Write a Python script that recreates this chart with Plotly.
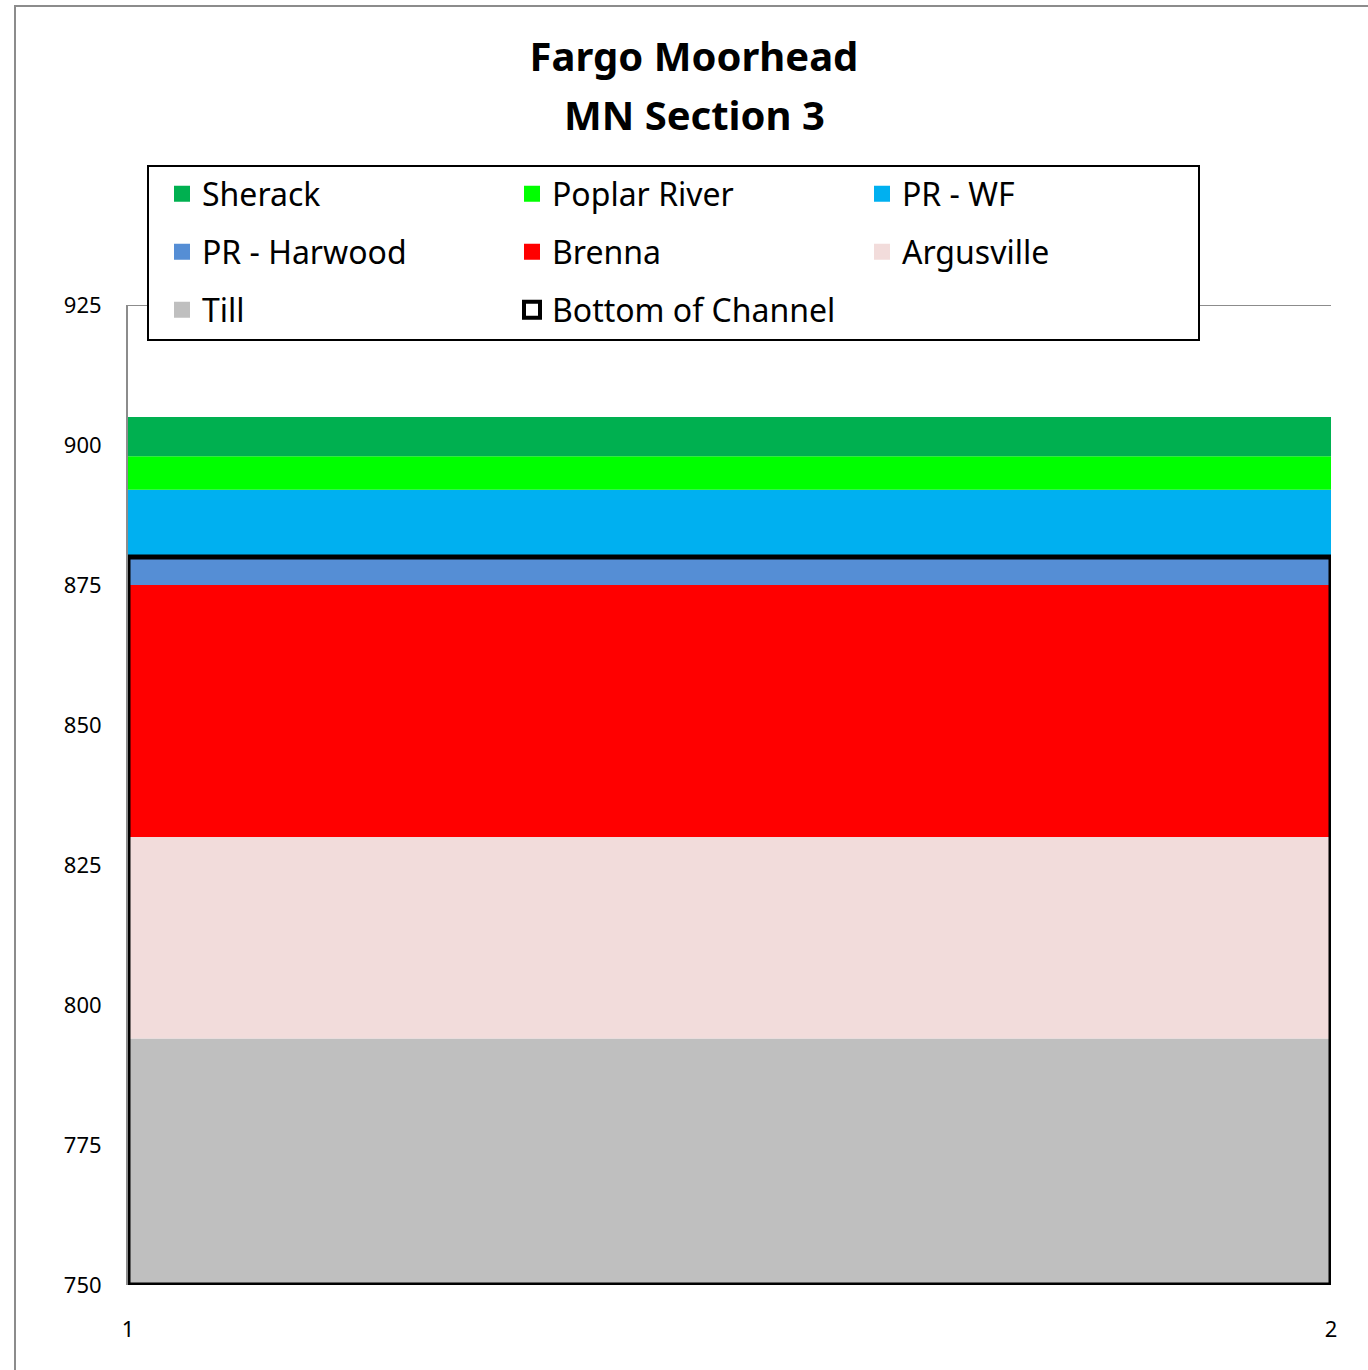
import plotly.graph_objects as go

# elevations (ft), layers from bottom to top
x_pos = [1, 2]
layer_names = ["Till", "Argusville", "Brenna", "PR - Harwood", "PR - WF", "Poplar River", "Sherack"]
layer_tops = [794, 830, 875, 880, 892, 898, 905]
layer_colors = ["#BFBFBF", "#F2DCDB", "#FF0000", "#558ED5", "#00B0F0", "#00FF00", "#00B050"]
channel_bottom = 880
y_min = 750
y_max = 925
y_ticks = [750, 775, 800, 825, 850, 875, 900, 925]

legend_rows = [
    ["Sherack", "Poplar River", "PR - WF"],
    ["PR - Harwood", "Brenna", "Argusville"],
    ["Till", "Bottom of Channel"],
]

# body margin is removed by the post script, so figure coords = screen coords
W, H = 1368, 1370
L, R, T, B = 128, 1331, 305, 1285

def px_x(p):
    return (p - L) / (R - L)

def px_y(p):
    return (B - p) / (B - T)

fig = go.Figure()

# stacked soil layers
for i, name in enumerate(layer_names):
    fig.add_trace(go.Scatter(
        x=x_pos, y=[layer_tops[i]] * len(x_pos),
        mode="lines", line=dict(width=0),
        fill="tozeroy" if i == 0 else "tonexty",
        fillcolor=layer_colors[i], showlegend=False, hoverinfo="skip"))

# bottom of channel outline
fig.add_trace(go.Scatter(
    x=[x_pos[0], x_pos[0], x_pos[-1], x_pos[-1], x_pos[0]],
    y=[y_min, channel_bottom, channel_bottom, y_min, y_min],
    mode="lines", line=dict(color="black", width=5),
    fill="toself", fillcolor="rgba(0,0,0,0)", showlegend=False, hoverinfo="skip"))

# legend entries, one legend per row
color_of = dict(zip(layer_names, layer_colors))
row_y = [194, 252, 310]
legend_keys = ["legend", "legend2", "legend3"]
for r, row in enumerate(legend_rows):
    for name in row:
        if name == "Bottom of Channel":
            mk = dict(symbol="square-open", size=18, color="black", line=dict(width=4, color="black"))
        else:
            mk = dict(symbol="square", size=20, color=color_of[name], line=dict(width=0))
        fig.add_trace(go.Scatter(x=[None], y=[None], mode="markers", marker=mk,
                                 name=name, legend=legend_keys[r]))

leg_common = dict(orientation="h", entrywidth=305, traceorder="normal",
                  xanchor="left", yanchor="middle",
                  bgcolor="rgba(0,0,0,0)", borderwidth=0,
                  font=dict(family="Noto Sans", size=32, color="black"))
layout_legends = {}
for r, key in enumerate(legend_keys):
    layout_legends[key] = dict(leg_common, x=px_x(162), y=px_y(row_y[r]))

fig.update_layout(
    width=W, height=H,
    margin=dict(l=L, r=W - R, t=T, b=H - B),
    paper_bgcolor="white", plot_bgcolor="white",
    font=dict(family="Noto Sans", color="black"),
    title=dict(text="<b>Fargo Moorhead</b>",
               x=694 / W, xanchor="center", xref="container",
               y=1 - 57 / H, yanchor="middle", yref="container",
               font=dict(family="Noto Sans", size=40, color="black")),
    xaxis=dict(range=[1, 2], tickvals=x_pos, showgrid=False, zeroline=False,
               showline=False, ticks="", ticklabelstandoff=29,
               tickfont=dict(size=22, color="black")),
    yaxis=dict(range=[y_min, y_max], tickvals=y_ticks, showgrid=True,
               gridcolor="#8C8C8C", gridwidth=2, zeroline=False,
               showline=True, linecolor="#8C8C8C", linewidth=2, ticks="",
               ticklabelstandoff=20, tickfont=dict(size=22, color="black")),
    annotations=[
        dict(text="<b>MN Section 3</b>", xref="paper", yref="paper",
             x=px_x(694), y=px_y(115), xanchor="center", yanchor="middle",
             showarrow=False, font=dict(family="Noto Sans", size=40, color="black")),
    ],
    shapes=[
        # outer chart frame
        dict(type="rect", xref="paper", yref="paper", layer="below",
             x0=px_x(15), x1=px_x(1400), y0=px_y(1400), y1=px_y(6),
             line=dict(color="#8C8C8C", width=2), fillcolor="rgba(0,0,0,0)"),
        # top gridline
        dict(type="line", xref="paper", yref="y", layer="below",
             x0=0, x1=1, y0=y_max, y1=y_max,
             line=dict(color="#8C8C8C", width=2)),
        # legend box
        dict(type="rect", xref="paper", yref="paper", layer="above",
             x0=px_x(148), x1=px_x(1199), y0=px_y(340), y1=px_y(166),
             line=dict(color="black", width=2), fillcolor="white"),
    ],
    **layout_legends,
)

fig.write_html("out.html", config={"displayModeBar": False},
               post_script="document.body.style.margin='0px';document.body.style.overflow='hidden';")
